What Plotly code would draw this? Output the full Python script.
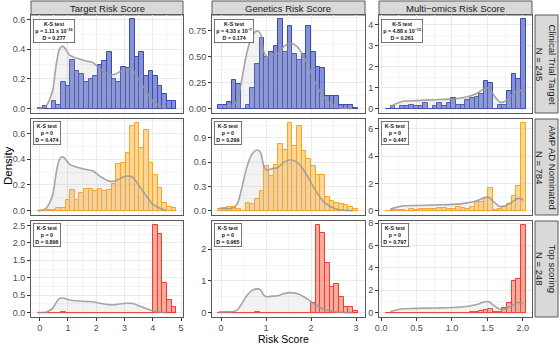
import plotly.graph_objects as go

W, H = 560, 345

# ---------------- data ----------------
score_names = ["Target Risk Score", "Genetics Risk Score", "Multi\u2212omics Risk Score"]
group_names = ["Clinical Trial Target<br>N = 245", "AMP AD Nominated<br>N = 784", "Top scoring<br>N = 248"]

# histogram bins (30 bins per score)
bin_start = [-0.06, -0.07, 0.07]
bin_width = [0.163, 0.1035, 0.0657]

# Target risk score histograms (density)
target_clinical = [0.003, 0.02, 0.0, 0.05, 0.025, 0.18, 0.15, 0.33, 0.25, 0.23, 0.18, 0.2, 0.22, 0.29, 0.32,
                   0.38, 0.2, 0.18, 0.28, 0.27, 0.6, 0.35, 0.38, 0.22, 0.25, 0.22, 0.15, 0.1, 0.05, 0.05]
target_ampad = [0.0, 0.0, 0.005, 0.005, 0.02, 0.02, 0.08, 0.16, 0.08, 0.14, 0.17, 0.17, 0.15, 0.17, 0.15,
                0.16, 0.21, 0.36, 0.37, 0.45, 0.66, 0.68, 0.49, 0.63, 0.37, 0.28, 0.18, 0.06, 0.03, 0.02]
target_top = [0, 0, 0, 0, 0, 0.02, 0, 0, 0, 0, 0, 0, 0, 0, 0,
              0, 0, 0, 0, 0, 0, 0, 0, 0, 0, 2.5, 2.25, 0.85, 0.35, 0.15]

# Genetics risk score histograms
genetics_clinical = [0.03, 0.03, 0.06, 0.28, 0.24, 0.0, 0.03, 0.2, 0.43, 0.68, 0.5, 0.55, 0.6, 0.86, 0.55,
                     0.8, 0.53, 0.47, 0.53, 0.8, 0.55, 0.4, 0.39, 0.12, 0.12, 0.12, 0.03, 0.03, 0.03, 0.01]
genetics_ampad = [0.02, 0.03, 0.04, 0.05, 0.02, 0.0, 0.1, 0.08, 0.14, 0.24, 0.55, 0.43, 0.56, 0.83, 0.75,
                  1.08, 0.8, 1.05, 0.74, 0.64, 0.55, 0.44, 0.44, 0.17, 0.12, 0.1, 0.08, 0.07, 0.04, 0.02]
genetics_top = [0, 0, 0, 0, 0, 0, 0, 0, 0.02, 0, 0, 0, 0, 0, 0,
                0, 0, 0, 0, 0, 0.3, 2.75, 2.5, 1.55, 0.82, 0.9, 0.5, 0.17, 0.17, 0.05]

# Multi-omics risk score histograms
omics_clinical = [0.0, 0.1, 0.0, 0.1, 0.1, 0.18, 0.1, 0.1, 0.25, 0.0, 0.1, 0.25, 0.1, 0.25, 0.5,
                  0.18, 0.18, 0.43, 0.52, 0.53, 0.7, 1.3, 1.2, 0.0, 0.18, 0.18, 0.86, 1.65, 1.4, 4.25]
omics_ampad = [0.0, 0.05, 0.05, 0.05, 0.0, 0.1, 0.05, 0.1, 0.1, 0.1, 0.15, 0.2, 0.2, 0.1, 0.1,
               0.3, 0.2, 0.15, 0.25, 0.65, 0.65, 0.95, 1.65, 0.02, 0.1, 0.3, 0.5, 1.1, 1.8, 6.4]
omics_top = [0, 0, 0, 0, 0, 0, 0, 0, 0, 0, 0, 0, 0, 0, 0,
             0, 0, 0, 0.08, 0.05, 0.12, 0.25, 0.3, 0.1, 0.1, 0.4, 0.9, 2.8, 3.0, 7.8]

hist_values = [
    [target_clinical, genetics_clinical, omics_clinical],
    [target_ampad, genetics_ampad, omics_ampad],
    [target_top, genetics_top, omics_top],
]

# background density (all genes) per score
dens_target_x = [-0.06, 0.1, 0.24, 0.35, 0.47, 0.59, 0.7, 0.79, 0.88, 1.06, 1.29, 1.65, 1.88, 2.12, 2.47,
                 2.65, 2.94, 3.12, 3.29, 3.53, 3.76, 4.0, 4.24, 4.47]
dens_target_y = [0.0, 0.005, 0.02, 0.06, 0.13, 0.3, 0.40, 0.42, 0.41, 0.36, 0.34, 0.32, 0.31, 0.27, 0.23,
                 0.23, 0.26, 0.27, 0.26, 0.19, 0.12, 0.05, 0.02, 0.0]
dens_genetics_x = [-0.05, 0.25, 0.36, 0.47, 0.58, 0.69, 0.8, 0.88, 0.95, 1.02, 1.14, 1.25, 1.4, 1.54, 1.69,
                   1.84, 1.95, 2.1, 2.25, 2.4, 2.62, 2.92]
dens_genetics_y = [0.03, 0.03, 0.08, 0.3, 0.55, 0.7, 0.75, 0.72, 0.55, 0.5, 0.52, 0.53, 0.6, 0.63, 0.6,
                   0.5, 0.4, 0.25, 0.13, 0.06, 0.01, 0.0]
dens_omics_x = [0.13, 0.2, 0.31, 0.5, 0.78, 1.02, 1.2, 1.35, 1.45, 1.49, 1.53, 1.6, 1.68, 1.75, 1.84,
                1.93, 1.98, 2.01]
dens_omics_y = [0.1, 0.22, 0.35, 0.38, 0.42, 0.46, 0.55, 0.72, 0.95, 1.0, 0.95, 0.6, 0.3, 0.35, 0.6,
                0.9, 0.85, 0.75]
dens_x = [dens_target_x, dens_genetics_x, dens_omics_x]
dens_y = [dens_target_y, dens_genetics_y, dens_omics_y]

ks_p = [
    ["1.11 x 10<sup>\u221216</sup>", "4.33 x 10<sup>\u22127</sup>", "4.88 x 10<sup>\u221215</sup>"],
    ["0", "0", "0"],
    ["0", "0", "0"],
]
ks_d = [
    ["0.277", "0.174", "0.261"],
    ["0.474", "0.299", "0.447"],
    ["0.896", "0.965", "0.797"],
]

x_ranges = [[-0.305, 5.07], [-0.2, 3.2], [-0.03, 2.13]]
x_dticks = [1, 1, 0.5]
x_formats = ["d", "d", ".1f"]
y_dticks = [[0.2, 0.25, 1], [0.2, 0.3, 2], [0.5, 1, 2]]
y_formats = [[".1f", ".2f", "d"], [".1f", ".1f", "d"], [".1f", "d", "d"]]

fill_cols = ["rgba(100,115,205,0.78)", "rgba(255,190,90,0.62)", "rgba(240,120,95,0.62)"]
line_cols = ["#3A4BB5", "#FFA31A", "#F23A2E"]

# ---------------- layout geometry (pixels) ----------------
col_px = [(31, 183), (212, 365), (379, 532)]
row_px = [(15, 113), (119, 215), (221, 317)]


def px_x(p):
    return p / W


def px_y(p):
    return 1 - p / H


fig = go.Figure()
layout = {}
annotations = []
shapes = []
FONT = "Liberation Sans, Arial, sans-serif"
GRID = "#EBEBEB"
MINOR = "#F5F5F5"
BORDER = "#5A5A5A"

for r in range(3):
    for c in range(3):
        k = r * 3 + c + 1
        xa = "x" if k == 1 else f"x{k}"
        ya = "y" if k == 1 else f"y{k}"
        vals = hist_values[r][c]
        w = bin_width[c]
        centers = [bin_start[c] + (i + 0.5) * w for i in range(len(vals))]
        # baseline (zero-height bins)
        fig.add_trace(go.Scatter(x=[bin_start[c], bin_start[c] + len(vals) * w], y=[0, 0], mode="lines",
                                 line=dict(color=line_cols[r], width=1), xaxis=xa, yaxis=ya,
                                 showlegend=False, hoverinfo="skip"))
        fig.add_trace(go.Bar(x=centers, y=vals, width=w, marker=dict(color=fill_cols[r],
                             line=dict(color=line_cols[r], width=1)), xaxis=xa, yaxis=ya, showlegend=False))
        fig.add_trace(go.Scatter(x=dens_x[c], y=dens_y[c], mode="lines", line=dict(color="rgba(150,150,150,0.85)",
                                 width=1.6, shape="spline", smoothing=0.7), fill="tozeroy",
                                 fillcolor="rgba(185,185,185,0.18)", xaxis=xa, yaxis=ya, showlegend=False))
        M = max(max(vals), max(dens_y[c]))
        x0, x1 = col_px[c]
        y0, y1 = row_px[r]
        layout["xaxis" if k == 1 else f"xaxis{k}"] = dict(
            domain=[px_x(x0), px_x(x1)], anchor=ya, range=x_ranges[c], tick0=0, dtick=x_dticks[c],
            tickformat=x_formats[c], showgrid=True, gridcolor=GRID, gridwidth=1, zeroline=False,
            showline=True, mirror=True, linecolor=BORDER, linewidth=1,
            ticks="outside" if r == 2 else "", ticklen=2.5, tickcolor="#333", tickwidth=1,
            showticklabels=(r == 2), tickfont=dict(size=9, color="#4D4D4D", family=FONT),
            minor=dict(dtick=x_dticks[c] / 2, tick0=0, showgrid=True, gridcolor=MINOR, gridwidth=0.6),
            automargin=False, fixedrange=True)
        layout["yaxis" if k == 1 else f"yaxis{k}"] = dict(
            domain=[px_y(y1), px_y(y0)], anchor=xa, range=[-0.05 * M, 1.05 * M], tick0=0, dtick=y_dticks[r][c],
            tickformat=y_formats[r][c], showgrid=True, gridcolor=GRID, gridwidth=1, zeroline=False,
            showline=True, mirror=True, linecolor=BORDER, linewidth=1,
            ticks="outside", ticklen=3, tickcolor="#333", tickwidth=1,
            tickfont=dict(size=9, color="#4D4D4D", family=FONT),
            minor=dict(dtick=y_dticks[r][c] / 2, tick0=0, showgrid=True, gridcolor=MINOR, gridwidth=0.6),
            automargin=False, fixedrange=True)
        # K-S box
        top_off = [4, 2, 2][r]
        annotations.append(dict(
            xref="paper", yref="paper", x=px_x(x0 + 2), y=px_y(y0 + top_off), xanchor="left", yanchor="top",
            text=f"<b>K-S test<br>p = {ks_p[r][c]}<br>D = {ks_d[r][c]}</b>", showarrow=False, align="center",
            font=dict(size=5.3, color="#111", family=FONT), bgcolor="white", bordercolor="#555",
            borderwidth=0.8, borderpad=1.5))

# top strips
for c in range(3):
    x0, x1 = col_px[c]
    top = row_px[0][0]
    shapes.append(dict(type="rect", xref="paper", yref="paper", x0=px_x(x0), x1=px_x(x1), y0=px_y(top),
                       y1=px_y(1), fillcolor="#D9D9D9", line=dict(color=BORDER, width=1), layer="below"))
    annotations.append(dict(xref="paper", yref="paper", x=px_x((x0 + x1) / 2), y=px_y((top + 1) / 2),
                            text=score_names[c], showarrow=False, xanchor="center", yanchor="middle",
                            font=dict(size=9.5, color="#1A1A1A", family=FONT)))
# right strips
for r in range(3):
    y0, y1 = row_px[r]
    shapes.append(dict(type="rect", xref="paper", yref="paper", x0=px_x(535), x1=px_x(558), y0=px_y(y1),
                       y1=px_y(y0), fillcolor="#D9D9D9", line=dict(color=BORDER, width=1), layer="below"))
    annotations.append(dict(xref="paper", yref="paper", x=px_x(546.5), y=px_y((y0 + y1) / 2),
                            text=group_names[r], showarrow=False, textangle=90, xanchor="center",
                            yanchor="middle", font=dict(size=9.5, color="#1A1A1A", family=FONT)))

# axis titles
annotations.append(dict(xref="paper", yref="paper", x=px_x(8), y=px_y((row_px[0][0] + row_px[2][1]) / 2),
                        text="Density", showarrow=False, textangle=-90, xanchor="center", yanchor="middle",
                        font=dict(size=11.5, color="#000", family=FONT)))
annotations.append(dict(xref="paper", yref="paper", x=px_x(283), y=px_y(346.5),
                        text="Risk Score", showarrow=False, xanchor="center", yanchor="bottom",
                        font=dict(size=10.5, color="#000", family=FONT)))

fig.update_layout(width=W, height=H, margin=dict(l=0, r=0, t=0, b=0), paper_bgcolor="white",
                  plot_bgcolor="white", bargap=0, barmode="overlay", showlegend=False,
                  annotations=annotations, shapes=shapes, font=dict(family=FONT), **layout)

fig.write_html("out.html")
